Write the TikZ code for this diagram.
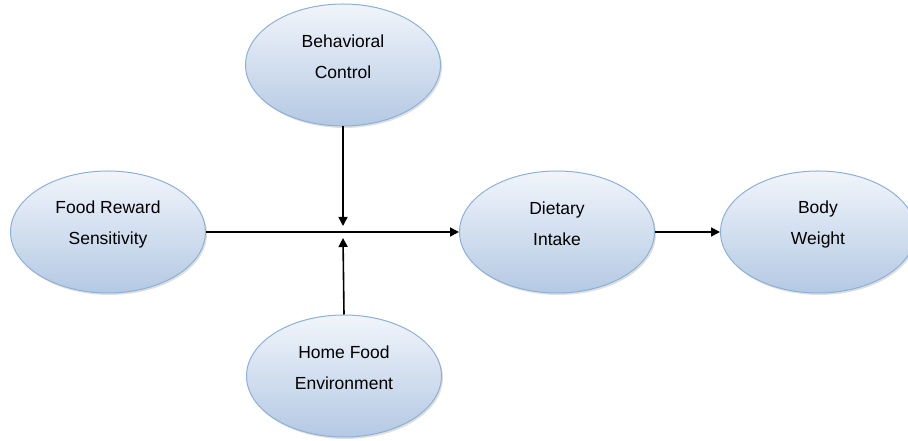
\documentclass[tikz,border=0pt]{standalone}
\usepackage{fontspec}
\setmainfont{Liberation Sans}
\usepackage{tikz}
\usetikzlibrary{arrows.meta,positioning,shapes,shadows}

\definecolor{ovaltop}{HTML}{F1F5FB}
\definecolor{ovalbot}{HTML}{B4C9E3}
\definecolor{ovalline}{HTML}{8DB0D9}

\begin{document}
\begin{tikzpicture}[x=1pt,y=1pt,>={Triangle[length=9pt,width=9pt]},node distance=150pt,on grid,
  oval/.style={ellipse,draw=ovalline,line width=1pt,top color=ovaltop,bottom color=ovalbot,
    minimum width=195pt,minimum height=122pt,
    drop shadow={shadow xshift=1.5pt,shadow yshift=-2pt,opacity=0.25}},
  txt/.style={align=center,font=\fontsize{17.5}{31}\selectfont,yshift=8pt}]
  \useasboundingbox (0,0) rectangle (908,441);
  \node[oval,label={[txt]center:Dietary\\Intake}]                (di) at (557,209)               {};
  \node[oval,label={[txt]center:Food Reward\\Sensitivity}]       (fr) [left =449pt of di]        {};
  \node[oval,label={[txt]center:Body\\Weight}]                   (bw) [right =261pt of di]       {};
  \node[oval,label={[txt]center:Behavioral\\Control}]            (bc) [above left =167pt and 214pt of di] {};
  \node[oval,label={[txt]center:Home Food\\Environment}]         (hf) [below left =144pt and 213pt of di] {};
\tikzset{link/.style={->,line width=1.6pt}}
\coordinate (mid) at (bc.south |- di.west);
\draw[link] (fr.east) -- (di.west);
\draw[link] (di.east) -- (bw.west);
\draw[link] (bc.south) -- ([yshift=6pt]mid);
\draw[link] (hf.north) -- ([yshift=-6pt]mid);
\end{tikzpicture}
\end{document}
